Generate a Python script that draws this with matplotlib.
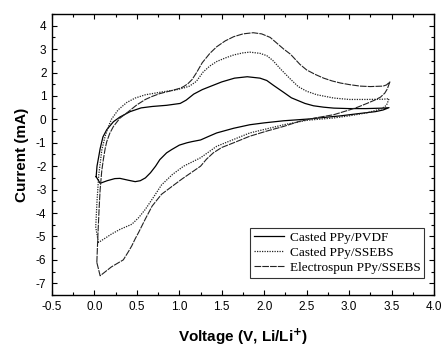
import numpy as np
import matplotlib
matplotlib.use('Agg')
import matplotlib.pyplot as plt
from matplotlib.ticker import MultipleLocator

# Casted PPy/PVDF (anodic then cathodic sweep)
v_pvdf = [0.02, 0.03, 0.05, 0.067, 0.1, 0.145, 0.224, 0.3, 0.42, 0.55, 0.68, 0.85, 1.01, 1.08, 1.17,
          1.27, 1.36, 1.5, 1.65, 1.8, 1.95, 2.03, 2.11, 2.23, 2.32, 2.4, 2.48, 2.58, 2.7, 2.82, 3.0,
          3.2, 3.4, 3.47,
          3.4, 3.31, 3.1, 2.9, 2.7, 2.54, 2.23, 2.0, 1.83, 1.64, 1.44, 1.35, 1.25, 1.15, 1.09, 1.0,
          0.91, 0.85, 0.77, 0.72, 0.66, 0.6, 0.54, 0.48, 0.4, 0.3, 0.24, 0.15, 0.067, 0.02]
i_pvdf = [-2.45, -2.0, -1.6, -1.25, -0.75, -0.44, -0.1, 0.1, 0.33, 0.49, 0.55, 0.6, 0.68, 0.82, 1.08,
          1.27, 1.4, 1.6, 1.76, 1.82, 1.76, 1.66, 1.45, 1.15, 0.92, 0.8, 0.68, 0.58, 0.52, 0.48, 0.46,
          0.46, 0.48, 0.5,
          0.4, 0.33, 0.24, 0.15, 0.08, 0.02, -0.06, -0.15, -0.23, -0.38, -0.58, -0.72, -0.88, -0.95, -1.0, -1.1,
          -1.29, -1.43, -1.72, -2.0, -2.28, -2.5, -2.62, -2.66, -2.6, -2.52, -2.53, -2.62, -2.73, -2.45]

# Casted PPy/SSEBS
v_ssebs = [0.047, 0.015, 0.03, 0.05, 0.087, 0.126, 0.16, 0.2, 0.28, 0.38, 0.48, 0.6, 0.73, 0.83, 0.95,
           1.05, 1.12, 1.2, 1.28, 1.36, 1.44, 1.54, 1.64, 1.75, 1.83, 1.95, 2.03, 2.1, 2.2, 2.3, 2.4,
           2.5, 2.62, 2.82, 3.0, 3.2, 3.4, 3.47,
           3.44, 3.38, 3.21, 3.0, 2.82, 2.5, 2.23, 1.83, 1.44, 1.25, 1.05, 0.92, 0.79, 0.7, 0.6, 0.52,
           0.44, 0.3, 0.2, 0.047]
i_ssebs = [-5.26, -4.6, -3.5, -2.4, -1.3, -0.72, -0.35, 0.0, 0.41, 0.72, 0.91, 1.05, 1.13, 1.19, 1.25,
           1.34, 1.42, 1.62, 2.02, 2.28, 2.47, 2.62, 2.75, 2.84, 2.87, 2.82, 2.72, 2.52, 2.12, 1.75, 1.4,
           1.2, 1.05, 0.91, 0.85, 0.85, 0.86, 0.88,
           0.6, 0.45, 0.28, 0.15, 0.06, -0.04, -0.23, -0.58, -1.15, -1.64, -2.0, -2.35, -2.8, -3.3, -3.84, -4.2,
           -4.48, -4.7, -4.9, -5.26]

# Electrospun PPy/SSEBS
v_elec = [0.028, 0.04, 0.055, 0.067, 0.086, 0.105, 0.126, 0.145, 0.18, 0.224, 0.3, 0.4, 0.5, 0.6, 0.68,
          0.77, 0.9, 1.01, 1.05, 1.1, 1.15, 1.2, 1.27, 1.36, 1.44, 1.54, 1.64, 1.75, 1.87, 1.97, 2.07,
          2.15, 2.23, 2.31, 2.42, 2.5, 2.6, 2.7, 2.8, 2.9, 3.01, 3.13, 3.25, 3.4, 3.44, 3.48,
          3.45, 3.42, 3.37, 3.3, 3.21, 3.1, 3.01, 2.82, 2.6, 2.42, 2.23, 2.03, 1.83, 1.64, 1.5, 1.4,
          1.32, 1.25, 1.15, 1.03, 0.9, 0.79, 0.68, 0.6, 0.52, 0.48, 0.44, 0.4, 0.34, 0.2, 0.067, 0.028]
i_elec = [-6.11, -5.0, -3.8, -3.0, -2.2, -1.71, -1.25, -0.95, -0.6, -0.3, 0.05, 0.33, 0.62, 0.85, 0.98,
          1.1, 1.22, 1.33, 1.4, 1.52, 1.7, 1.98, 2.42, 2.82, 3.1, 3.35, 3.53, 3.65, 3.7, 3.65, 3.5,
          3.25, 3.0, 2.78, 2.35, 2.11, 1.92, 1.76, 1.64, 1.55, 1.48, 1.42, 1.4, 1.42, 1.47, 1.6,
          1.3, 1.12, 0.95, 0.82, 0.68, 0.52, 0.41, 0.2, 0.06, -0.08, -0.3, -0.5, -0.72, -1.0, -1.2, -1.43,
          -1.7, -2.0, -2.25, -2.55, -2.9, -3.2, -3.7, -4.25, -4.83, -5.1, -5.4, -5.65, -6.0, -6.3, -6.68, -6.11]

labels = ['Casted PPy/PVDF', 'Casted PPy/SSEBS', 'Electrospun PPy/SSEBS']

plt.rcParams['font.family'] = 'Liberation Sans'

fig = plt.figure(figsize=(4.43, 3.47), dpi=100)
ax = fig.add_axes([0.1174, 0.1499, 0.8623, 0.8098])

ax.plot(v_pvdf, i_pvdf, color='black', lw=0.9, ls='-', label=labels[0])
ax.plot(v_ssebs, i_ssebs, color='#222222', lw=0.9, ls=(0, (1, 1)), label=labels[1])
ax.plot(v_elec, i_elec, color='#222222', lw=0.8, ls=(0, (6, 1)), label=labels[2])

ax.set_xlim(-0.5, 4.0)
ax.set_ylim(-7.5, 4.5)
ax.xaxis.set_minor_locator(MultipleLocator(0.25))
ax.yaxis.set_minor_locator(MultipleLocator(0.5))
xt = np.arange(-0.5, 4.01, 0.5)
ax.set_xticks(xt)
ax.set_xticklabels(['%.1f' % t for t in xt])
ax.set_yticks(range(-7, 5))
ax.set_yticklabels([str(t) for t in range(-7, 5)])

ax.tick_params(which='both', direction='in', top=True, right=True, labelsize=8.5, width=0.8, pad=4)
ax.tick_params(which='major', length=3.5)
ax.tick_params(which='minor', length=2)
for s in ax.spines.values():
    s.set_linewidth(1.0)

ax.set_xlabel('Voltage (V, Li/Li$^{\\mathbf{+}}$)', fontsize=11, fontweight='bold', labelpad=10)
ax.set_ylabel('Current (mA)', fontsize=11, fontweight='bold', labelpad=5)

leg = ax.legend(loc='lower right', bbox_to_anchor=(0.975, 0.062), frameon=True, fancybox=False,
                edgecolor='black', prop={'family': 'Liberation Serif', 'size': 9.5},
                handlelength=2.3, labelspacing=0.2, borderpad=0.3, handletextpad=0.4,
                borderaxespad=0)
leg.get_frame().set_linewidth(0.8)

fig.savefig('out.png', dpi=100)
